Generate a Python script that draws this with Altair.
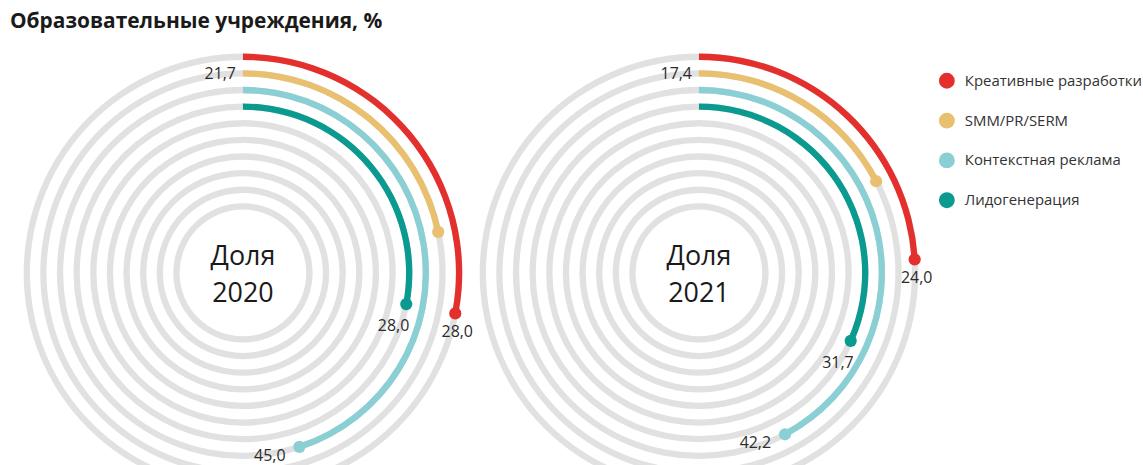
import altair as alt
import pandas as pd

# ---- data ----
years = ["2020", "2021"]
series = ["Креативные разработки", "SMM/PR/SERM", "Контекстная реклама", "Лидогенерация"]
values_2020 = [28.0, 21.7, 45.0, 28.0]
values_2021 = [24.0, 17.4, 42.2, 31.7]
series_levels = [13, 12, 11, 10]          # ring on which each series is drawn (outer = 13)
ring_levels = [4, 5, 6, 7, 8, 9, 10, 11, 12, 13]
colors = ["#E3302D", "#E8C06F", "#8ACFD3", "#0B9A90"]
center_word = "Доля"
title_text = "Образовательные учреждения, %"

# ---- layout constants ----
UNIT = 16.7          # pixels per ring level
PANEL_W = 456
PANEL_H = 466
HALF = 0.19          # half ring thickness in level units
FONT = "Open Sans"

theta_scale = alt.Scale(type="linear", domain=[0, 100], range=[0, 6.283185307179586])
r_scale = alt.Scale(type="linear", domain=[0, 13], range=[0, 13 * UNIT])
x_scale = alt.Scale(domain=[-PANEL_W / 2 / UNIT, PANEL_W / 2 / UNIT], nice=False, zero=False)
y_scale = alt.Scale(domain=[-PANEL_H / 2 / UNIT, PANEL_H / 2 / UNIT], nice=False, zero=False)
color_enc = alt.Color(
    "series:N",
    scale=alt.Scale(domain=series, range=colors),
    sort=series,
    legend=alt.Legend(
        title=None,
        orient="none",
        legendX=927,
        legendY=32,
        symbolType="circle",
        symbolSize=254,
        symbolOpacity=1,
        symbolStrokeWidth=0,
        labelFontSize=15,
        labelFont=FONT,
        labelColor="#333333",
        labelOffset=10,
        labelLimit=300,
        rowPadding=24,
        padding=0,
    ),
)


def panel(year, values):
    df = pd.DataFrame({
        "series": series,
        "value": values,
        "level": series_levels,
    })
    df["label"] = [f"{v:.1f}".replace(".", ",") for v in values]
    rings = pd.DataFrame({"level": ring_levels})

    ring_layer = alt.Chart(rings).transform_calculate(
        r_in=f"datum.level - {HALF}", r_out=f"datum.level + {HALF}", t0="0", t1="100"
    ).mark_arc(color="#E1E1E1").encode(
        theta=alt.Theta("t0:Q", scale=theta_scale),
        theta2="t1:Q",
        radius=alt.Radius("r_in:Q", scale=r_scale),
        radius2="r_out:Q",
    )

    base = alt.Chart(df).transform_calculate(
        r_in=f"datum.level - {HALF}",
        r_out=f"datum.level + {HALF}",
        t0="0",
        ang="datum.value / 100 * 2 * PI",
    ).transform_calculate(
        px="datum.level * sin(datum.ang)",
        py="datum.level * cos(datum.ang)",
    )

    arc_layer = base.mark_arc().encode(
        theta=alt.Theta("t0:Q", scale=theta_scale, stack=False),
        theta2="value:Q",
        radius=alt.Radius("r_in:Q", scale=r_scale),
        radius2="r_out:Q",
        color=color_enc,
    )

    X = alt.X("px:Q", scale=x_scale, axis=None)
    Y = alt.Y("py:Q", scale=y_scale, axis=None)

    dot_layer = base.mark_circle(size=150, opacity=1).encode(x=X, y=Y, color=color_enc)

    txt = dict(fontSize=16, font=FONT, color="#2b2b2b")
    lab_red = base.transform_filter(alt.datum.series == series[0]).mark_text(
        align="center", baseline="top", dx=2, dy=11, **txt
    ).encode(x=X, y=Y, text="label:N")
    lab_teal = base.transform_filter(alt.datum.series == series[3]).mark_text(
        align="right", baseline="top", dx=3, dy=14, **txt
    ).encode(x=X, y=Y, text="label:N")
    lab_blue = base.transform_filter(alt.datum.series == series[2]).mark_text(
        align="right", baseline="middle", dx=-14, dy=9, **txt
    ).encode(x=X, y=Y, text="label:N")
    lab_yellow = base.transform_filter(alt.datum.series == series[1]).transform_calculate(
        sx="0", sy="datum.level"
    ).mark_text(align="right", baseline="middle", dx=-7, dy=1, **txt).encode(
        x=alt.X("sx:Q", scale=x_scale, axis=None),
        y=alt.Y("sy:Q", scale=y_scale, axis=None),
        text="label:N",
    )

    center_df = pd.DataFrame({"t": [center_word, year], "line": [0, 1], "cx": [0, 0], "cy": [0, 0]})
    ctr = dict(fontSize=27, font=FONT, color="#1a1a1a", align="center", baseline="alphabetic")
    cx = alt.X("cx:Q", scale=x_scale, axis=None)
    cy = alt.Y("cy:Q", scale=y_scale, axis=None)
    center1 = alt.Chart(center_df).transform_filter(alt.datum.line == 0).mark_text(
        dy=-8, **ctr
    ).encode(x=cx, y=cy, text="t:N")
    center2 = alt.Chart(center_df).transform_filter(alt.datum.line == 1).mark_text(
        dy=29, **ctr
    ).encode(x=cx, y=cy, text="t:N")

    return alt.layer(
        ring_layer, arc_layer, dot_layer, lab_red, lab_teal, lab_blue, lab_yellow, center1, center2
    ).properties(width=PANEL_W, height=PANEL_H)


chart = alt.hconcat(
    panel(years[0], values_2020), panel(years[1], values_2021), spacing=2, bounds="flush"
).properties(
    title=alt.TitleParams(
        title_text, anchor="start", fontSize=21, fontWeight="bold", font=FONT,
        color="#1a1a1a", dx=-6, offset=9,
    ),
    padding={"left": 10, "top": 10, "right": 0, "bottom": 0},
    background="white",
).configure_view(strokeWidth=0)

chart.save("out.html", embed_options={"renderer": "svg", "actions": False})
